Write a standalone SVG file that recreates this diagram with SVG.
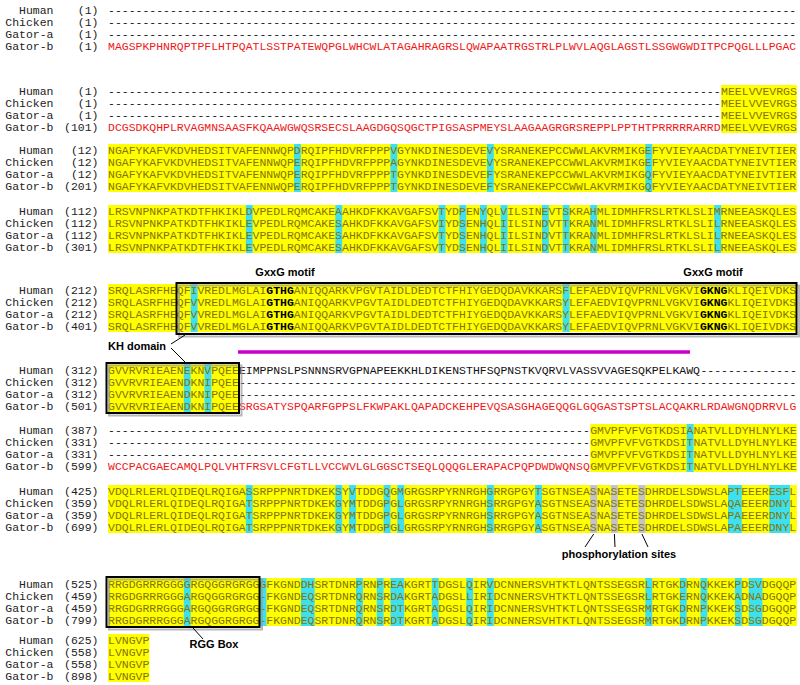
<svg xmlns="http://www.w3.org/2000/svg" width="800" height="685" viewBox="0 0 800 685">
<style>
text{font-family:"Liberation Mono","Courier New",monospace;font-size:11.48px}
.nm{fill:#222;text-anchor:end}
.d{fill:#111}
.o{fill:#857500}
.r{fill:#f01818}
.k{fill:#111}
.b{font-weight:bold;fill:#000}
.yl{fill:#ffff00}
.cy{fill:#3de0ee}
.gr{fill:#c4c4c4}
.box{fill:none;stroke:#000;stroke-width:2}
.sh{fill:none;stroke:#9a9a9a;stroke-width:2;opacity:.7}
.lbl{font-family:"Liberation Sans",Arial,sans-serif;font-weight:bold;font-size:11px;fill:#000}
.ln{stroke:#000;stroke-width:1;fill:none}
</style>
<rect width="800" height="685" fill="#fff"/>

<!-- Block 1 -->
<g id="block1">
<text class="nm" x="53.5" y="14">Human</text><text class="nm" x="98.5" y="14">(1)</text>
<text class="nm" x="53.5" y="26">Chicken</text><text class="nm" x="98.5" y="26">(1)</text>
<text class="nm" x="53.5" y="38">Gator-a</text><text class="nm" x="98.5" y="38">(1)</text>
<text class="nm" x="53.5" y="50">Gator-b</text><text class="nm" x="98.5" y="50">(1)</text>
<text class="d" x="108" y="14">----------------------------------------------------------------------------------------------------</text>
<text class="d" x="108" y="26">----------------------------------------------------------------------------------------------------</text>
<text class="d" x="108" y="38">----------------------------------------------------------------------------------------------------</text>
<text class="r" x="108" y="50">MAGSPKPHNRQPTPFLHTPQATLSSTPATEWQPGLWHCWLATAGAHRAGRSLQWAPAATRGSTRLPLWVLAQGLAGSTLSSGWGWDITPCPQGLLLPGAC</text>
</g>

<!-- Block 2 -->
<g id="block2">
<rect class="yl" x="721.12" y="85" width="75.78" height="48"/>
<text class="nm" x="53.5" y="95">Human</text><text class="nm" x="98.5" y="95">(1)</text>
<text class="nm" x="53.5" y="107">Chicken</text><text class="nm" x="98.5" y="107">(1)</text>
<text class="nm" x="53.5" y="119">Gator-a</text><text class="nm" x="98.5" y="119">(1)</text>
<text class="nm" x="53.5" y="131">Gator-b</text><text class="nm" x="98.5" y="131">(101)</text>
<text x="108" y="95"><tspan class="d">-----------------------------------------------------------------------------------------</tspan><tspan class="o" x="721.12">MEELVVEVRGS</tspan></text>
<text x="108" y="107"><tspan class="d">-----------------------------------------------------------------------------------------</tspan><tspan class="o" x="721.12">MEELVVEVRGS</tspan></text>
<text x="108" y="119"><tspan class="d">-----------------------------------------------------------------------------------------</tspan><tspan class="o" x="721.12">MEELVVEVRGS</tspan></text>
<text x="108" y="131"><tspan class="r">DCGSDKQHPLRVAGMNSAASFKQAAWGWQSRSECSLAAGDGQSQGCTPIGSASPMEYSLAAGAAGRGRSREPPLPPTHTPRRRRRARRD</tspan><tspan class="o" x="721.12">MEELVVEVRGS</tspan></text>
</g>

<!-- Block 3 -->
<g id="block3">
<rect class="yl" x="108" y="144" width="688.9" height="48"/>
<rect class="cy" x="294.0" y="144" width="6.89" height="48"/>
<rect class="cy" x="390.45" y="144" width="6.89" height="48"/>
<rect class="cy" x="486.9" y="144" width="6.89" height="48"/>
<rect class="cy" x="645.34" y="144" width="6.89" height="48"/>
<text class="nm" x="53.5" y="154">Human</text><text class="nm" x="98.5" y="154">(12)</text>
<text class="nm" x="53.5" y="166">Chicken</text><text class="nm" x="98.5" y="166">(12)</text>
<text class="nm" x="53.5" y="178">Gator-a</text><text class="nm" x="98.5" y="178">(12)</text>
<text class="nm" x="53.5" y="190">Gator-b</text><text class="nm" x="98.5" y="190">(201)</text>
<text class="o" x="108" y="154">NGAFYKAFVKDVHEDSITVAFENNWQPDRQIPFHDVRFPPPVGYNKDINESDEVEVYSRANEKEPCCWWLAKVRMIKGEFYVIEYAACDATYNEIVTIER</text>
<text class="o" x="108" y="166">NGAFYKAFVKDVHEDSITVAFENNWQPERQIPFHDVRFPPPAGYNKDINESDEVEVYSRANEKEPCCWWLAKVRMIKGEFYVIEYAACDATYNEIVTIER</text>
<text class="o" x="108" y="178">NGAFYKAFVKDVHEDSITVAFENNWQPERQIPFHDVRFPPPTGYNKDINESDEVEFYSRANEKEPCCWWLAKVRMIKGQFYVIEYAACDATYNEIVTIER</text>
<text class="o" x="108" y="190">NGAFYKAFVKDVHEDSITVAFENNWQPERQIPFHDVRFPPPTGYNKDINESDEVEFYSRANEKEPCCWWLAKVRMIKGQFYVIEYAACDATYNEIVTIER</text>
</g>

<!-- Block 4 -->
<g id="block4">
<rect class="yl" x="108" y="205" width="688.9" height="48"/>
<rect class="cy" x="245.78" y="205" width="6.89" height="48"/>
<rect class="cy" x="335.34" y="205" width="6.89" height="48"/>
<rect class="cy" x="438.67" y="205" width="6.89" height="48"/>
<rect class="cy" x="459.34" y="205" width="6.89" height="48"/>
<rect class="cy" x="480.01" y="205" width="6.89" height="48"/>
<rect class="cy" x="500.67" y="205" width="6.89" height="48"/>
<rect class="cy" x="542.01" y="205" width="6.89" height="48"/>
<rect class="cy" x="562.67" y="205" width="6.89" height="48"/>
<rect class="cy" x="590.23" y="205" width="6.89" height="48"/>
<rect class="cy" x="714.23" y="205" width="6.89" height="48"/>
<text class="nm" x="53.5" y="215">Human</text><text class="nm" x="98.5" y="215">(112)</text>
<text class="nm" x="53.5" y="227">Chicken</text><text class="nm" x="98.5" y="227">(112)</text>
<text class="nm" x="53.5" y="239">Gator-a</text><text class="nm" x="98.5" y="239">(112)</text>
<text class="nm" x="53.5" y="251">Gator-b</text><text class="nm" x="98.5" y="251">(301)</text>
<text class="o" x="108" y="215">LRSVNPNKPATKDTFHKIKLDVPEDLRQMCAKEAAHKDFKKAVGAFSVTYDPENYQLVILSINEVTSKRAHMLIDMHFRSLRTKLSLIMRNEEASKQLES</text>
<text class="o" x="108" y="227">LRSVNPNKPATKDTFHKIKLEVPEDLRQMCAKESAHKDFKKAVGAFSVIYDSENHQLIILSINDVTTKRANMLIDMHFRSLRTKLSLILRNEEASKQLES</text>
<text class="o" x="108" y="239">LRSVNPNKPATKDTFHKIKLEVPEDLRQMCAKESAHKDFKKAVGAFSVTYDSENHQLIILSINDVTTKRANMLIDMHFRSLRTKLSLILRNEEASKQLES</text>
<text class="o" x="108" y="251">LRSVNPNKPATKDTFHKIKLEVPEDLRQMCAKESAHKDFKKAVGAFSVTYDSENHQLIILSINDVTTKRANMLIDMHFRSLRTKLSLILRNEEASKQLES</text>
</g>

<!-- Block 5 -->
<g id="block5">
<rect class="yl" x="108" y="284" width="688.9" height="48"/>
<rect class="cy" x="190.67" y="284" width="6.89" height="48"/>
<rect class="cy" x="562.67" y="284" width="6.89" height="48"/>
<text class="nm" x="53.5" y="294">Human</text><text class="nm" x="98.5" y="294">(212)</text>
<text class="nm" x="53.5" y="306">Chicken</text><text class="nm" x="98.5" y="306">(212)</text>
<text class="nm" x="53.5" y="318">Gator-a</text><text class="nm" x="98.5" y="318">(212)</text>
<text class="nm" x="53.5" y="330">Gator-b</text><text class="nm" x="98.5" y="330">(401)</text>
<text class="o" x="108" y="294">SRQLASRFHEQFIVREDLMGLAI<tspan class="b">GTHG</tspan>ANIQQARKVPGVTAIDLDEDTCTFHIYGEDQDAVKKARSFLEFAEDVIQVPRNLVGKVI<tspan class="b">GKNG</tspan>KLIQEIVDKS</text>
<text class="o" x="108" y="306">SRQLASRFHEQFVVREDLMGLAI<tspan class="b">GTHG</tspan>ANIQQARKVPGVTAIDLDEDTCTFHIYGEDQDAVKKARSYLEFAEDVIQVPRNLVGKVI<tspan class="b">GKNG</tspan>KLIQEIVDKS</text>
<text class="o" x="108" y="318">SRQLASRFHEQFVVREDLMGLAI<tspan class="b">GTHG</tspan>ANIQQARKVPGVTAIDLDEDTCTFHIYGEDQDAVKKARSYLEFAEDVIQVPRNLVGKVI<tspan class="b">GKNG</tspan>KLIQEIVDKS</text>
<text class="o" x="108" y="330">SRQLASRFHEQFVVREDLMGLAI<tspan class="b">GTHG</tspan>ANIQQARKVPGVTAIDLDEDTCTFHIYGEDQDAVKKARSYLEFAEDVIQVPRNLVGKVI<tspan class="b">GKNG</tspan>KLIQEIVDKS</text>
<rect class="sh" x="179" y="285.5" width="620" height="51"/>
<rect class="box" x="176.5" y="283" width="620" height="51"/>
</g>

<!-- Block 6 -->
<g id="block6">
<rect class="yl" x="108" y="364" width="130.89" height="48"/>
<rect class="cy" x="183.78" y="364" width="6.89" height="48"/>
<rect class="cy" x="204.45" y="364" width="6.89" height="48"/>
<text class="nm" x="53.5" y="374">Human</text><text class="nm" x="98.5" y="374">(312)</text>
<text class="nm" x="53.5" y="386">Chicken</text><text class="nm" x="98.5" y="386">(312)</text>
<text class="nm" x="53.5" y="398">Gator-a</text><text class="nm" x="98.5" y="398">(312)</text>
<text class="nm" x="53.5" y="410">Gator-b</text><text class="nm" x="98.5" y="410">(501)</text>
<text x="108" y="374"><tspan class="o">GVVRVRIEAENEKNVPQEE</tspan><tspan class="k" x="238.89">EIMPPNSLPSNNNSRVGPNAPEEKKHLDIKENSTHFSQPNSTKVQRVLVASSVVAGESQKPELKAWQ</tspan><tspan class="d" x="700.45">--------------</tspan></text>
<text x="108" y="386"><tspan class="o">GVVRVRIEAENDKNIPQEE</tspan><tspan class="d" x="238.89">---------------------------------------------------------------------------------</tspan></text>
<text x="108" y="398"><tspan class="o">GVVRVRIEAENDKNIPQEE</tspan><tspan class="d" x="238.89">---------------------------------------------------------------------------------</tspan></text>
<text x="108" y="410"><tspan class="o">GVVRVRIEAENDKNIPQEE</tspan><tspan class="r" x="238.89">SRGSATYSPQARFGPPSLFKWPAKLQAPADCKEHPEVQSASGHAGEQQGLGQGASTSPTSLACQAKRLRDAWGNQDRRVLG</tspan></text>
<rect class="sh" x="109" y="365.5" width="132.5" height="50"/>
<rect class="box" x="106.5" y="363" width="132.5" height="50"/>
</g>

<!-- Block 7 -->
<g id="block7">
<rect class="yl" x="590.23" y="424" width="206.67" height="48"/>
<rect class="cy" x="686.68" y="424" width="6.89" height="48"/>
<text class="nm" x="53.5" y="434">Human</text><text class="nm" x="98.5" y="434">(387)</text>
<text class="nm" x="53.5" y="446">Chicken</text><text class="nm" x="98.5" y="446">(331)</text>
<text class="nm" x="53.5" y="458">Gator-a</text><text class="nm" x="98.5" y="458">(331)</text>
<text class="nm" x="53.5" y="470">Gator-b</text><text class="nm" x="98.5" y="470">(599)</text>
<text x="108" y="434"><tspan class="d">----------------------------------------------------------------------</tspan><tspan class="o" x="590.23">GMVPFVFVGTKDSIANATVLLDYHLNYLKE</tspan></text>
<text x="108" y="446"><tspan class="d">----------------------------------------------------------------------</tspan><tspan class="o" x="590.23">GMVPFVFVGTKDSITNATVLLDYHLNYLKE</tspan></text>
<text x="108" y="458"><tspan class="d">----------------------------------------------------------------------</tspan><tspan class="o" x="590.23">GMVPFVFVGTKDSITNATVLLDYHLNYLKE</tspan></text>
<text x="108" y="470"><tspan class="r">WCCPACGAECAMQLPQLVHTFRSVLCFGTLLVCCWVLGLGGSCTSEQLQQQGLERAPACPQPDWDWQNSQ</tspan><tspan class="o" x="590.23">GMVPFVFVGTKDSITNATVLLDYHLNYLKE</tspan></text>
</g>

<!-- Block 8 -->
<g id="block8">
<rect class="yl" x="108" y="485" width="688.9" height="48"/>
<rect class="cy" x="245.78" y="485" width="6.89" height="48"/>
<rect class="cy" x="335.34" y="485" width="6.89" height="48"/>
<rect class="cy" x="349.12" y="485" width="6.89" height="48"/>
<rect class="cy" x="383.56" y="485" width="6.89" height="48"/>
<rect class="cy" x="397.34" y="485" width="6.89" height="48"/>
<rect class="cy" x="486.9" y="485" width="6.89" height="48"/>
<rect class="cy" x="535.12" y="485" width="6.89" height="48"/>
<rect class="cy" x="728.01" y="485" width="13.78" height="48"/>
<rect class="cy" x="769.34" y="485" width="20.67" height="48"/>
<rect class="gr" x="590.23" y="485" width="6.89" height="48"/>
<rect class="gr" x="610.9" y="485" width="6.89" height="48"/>
<rect class="gr" x="638.45" y="485" width="6.89" height="48"/>
<text class="nm" x="53.5" y="495">Human</text><text class="nm" x="98.5" y="495">(425)</text>
<text class="nm" x="53.5" y="507">Chicken</text><text class="nm" x="98.5" y="507">(359)</text>
<text class="nm" x="53.5" y="519">Gator-a</text><text class="nm" x="98.5" y="519">(359)</text>
<text class="nm" x="53.5" y="531">Gator-b</text><text class="nm" x="98.5" y="531">(699)</text>
<text class="o" x="108" y="495">VDQLRLERLQIDEQLRQIGASSRPPPNRTDKEKSYVTDDGQGMGRGSRPYRNRGHGRRGPGYTSGTNSEASNASETESDHRDELSDWSLAPTEEERESFL</text>
<text class="o" x="108" y="507">VDQLRLERLQIDEQLRQIGATSRPPPNRTDKEKGYMTDDGPGLGRGSRPYRNRGHSRRGPGYASGTNSEASNASETESDHRDELSDWSLAQAEEERDNYL</text>
<text class="o" x="108" y="519">VDQLRLERLQIDEQLRQIGATSRPPPNRTDKEKGYMTDDGPGLGRGSRPYRNRGHSRRGPGYASGTNSEASNASETESDHRDELSDWSLAPAEEERDNYL</text>
<text class="o" x="108" y="531">VDQLRLERLQIDEQLRQIGATSRPPPNRTDKEKGYMTDDGPGLGRGSRPYRNRGHSRRGPGYASGTNSEASNASETESDHRDELSDWSLAPAEEERDNYL</text>
</g>

<!-- Block 9 -->
<g id="block9">
<rect class="yl" x="108" y="578" width="688.9" height="48"/>
<rect class="cy" x="183.78" y="578" width="6.89" height="48"/>
<rect class="cy" x="259.56" y="578" width="6.89" height="48"/>
<rect class="cy" x="300.89" y="578" width="13.78" height="48"/>
<rect class="cy" x="356.0" y="578" width="6.89" height="48"/>
<rect class="cy" x="376.67" y="578" width="6.89" height="48"/>
<rect class="cy" x="390.45" y="578" width="13.78" height="48"/>
<rect class="cy" x="431.78" y="578" width="6.89" height="48"/>
<rect class="cy" x="466.23" y="578" width="6.89" height="48"/>
<rect class="cy" x="486.9" y="578" width="6.89" height="48"/>
<rect class="cy" x="645.34" y="578" width="6.89" height="48"/>
<rect class="cy" x="679.79" y="578" width="6.89" height="48"/>
<rect class="cy" x="700.45" y="578" width="6.89" height="48"/>
<rect class="cy" x="734.9" y="578" width="6.89" height="48"/>
<rect class="cy" x="748.68" y="578" width="13.78" height="48"/>
<text class="nm" x="53.5" y="588">Human</text><text class="nm" x="98.5" y="588">(525)</text>
<text class="nm" x="53.5" y="600">Chicken</text><text class="nm" x="98.5" y="600">(459)</text>
<text class="nm" x="53.5" y="612">Gator-a</text><text class="nm" x="98.5" y="612">(459)</text>
<text class="nm" x="53.5" y="624">Gator-b</text><text class="nm" x="98.5" y="624">(799)</text>
<text class="o" x="108" y="588">RRGDGRRRGGGGRGQGGRGRGGGFKGNDDHSRTDNRPRNPREAKGRTTDGSLQIRVDCNNERSVHTKTLQNTSSEGSRLRTGKDRNQKKEKPDSVDGQQP</text>
<text class="o" x="108" y="600">RRGDGRRRGGGARGQGGRGRGG-FKGNDEQSRTDNRQRNSRDAKGRTADGSLLIRIDCNNERSVHTKTLQNTSSEGSRLRTGKERNQKKEKADNADGQQP</text>
<text class="o" x="108" y="612">RRGDGRRRGGGARGQGGRGRGG-FKGNDEQSRTDNRQRNSRDTKGRTADGSLQIRIDCNNERSVHTKTLQNTSSEGSRMRTGKDRNPKKEKSDSGDGQQP</text>
<text class="o" x="108" y="624">RRGDGRRRGGGARGQGGRGRGG-FKGNDEQSRTDNRQRNSRDTKGRTADGSLQIRIDCNNERSVHTKTLQNTSSEGSRMRTGKDRNPKKEKSDSGDGQQP</text>
<rect class="sh" x="109" y="579.5" width="153" height="50"/>
<rect class="box" x="106.5" y="577" width="153" height="50"/>
</g>

<!-- Block 10 -->
<g id="block10">
<rect class="yl" x="108" y="634" width="41.33" height="48"/>
<text class="nm" x="53.5" y="644">Human</text><text class="nm" x="98.5" y="644">(625)</text>
<text class="nm" x="53.5" y="656">Chicken</text><text class="nm" x="98.5" y="656">(558)</text>
<text class="nm" x="53.5" y="668">Gator-a</text><text class="nm" x="98.5" y="668">(558)</text>
<text class="nm" x="53.5" y="680">Gator-b</text><text class="nm" x="98.5" y="680">(898)</text>
<text class="o" x="108" y="644">LVNGVP</text>
<text class="o" x="108" y="656">LVNGVP</text>
<text class="o" x="108" y="668">LVNGVP</text>
<text class="o" x="108" y="680">LVNGVP</text>
</g>

<!-- Annotations -->
<g id="labels">
<text class="lbl" x="285" y="276" text-anchor="middle">GxxG motif</text>
<text class="lbl" x="713" y="276" text-anchor="middle">GxxG motif</text>
<text class="lbl" x="108" y="350">KH domain</text>
<text class="lbl" x="619" y="558" text-anchor="middle">phosphorylation sites</text>
<text class="lbl" x="214" y="648" text-anchor="middle">RGG Box</text>
</g>
<g id="purple-bar">
<line x1="238" y1="352" x2="690" y2="352" stroke="#cc00cc" stroke-width="3.5"/>
</g>
<g id="connectors">
<path class="ln" d="M171 344 L185 335"/>
<path class="ln" d="M171 348 L186 363"/>
<path class="ln" d="M593.7 534 L585 547"/>
<path class="ln" d="M614.4 534 L615 547"/>
<path class="ln" d="M641.9 534 L648 547"/>
<path class="ln" d="M193 628 L203 639"/>
</g>
</svg>
